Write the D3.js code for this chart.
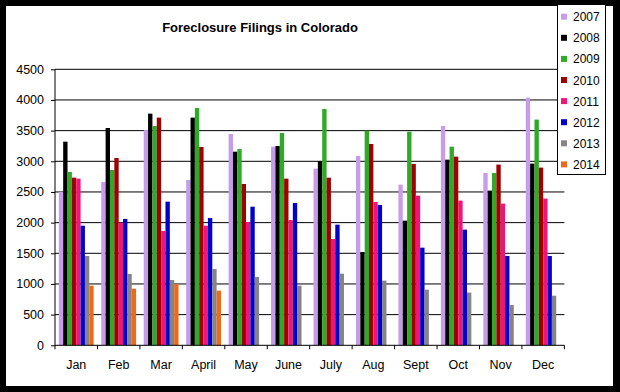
<!DOCTYPE html>
<html>
<head>
<meta charset="utf-8">
<script src="https://cdn.jsdelivr.net/npm/d3@7.9.0/dist/d3.min.js"></script>
<style>
  html, body { margin: 0; padding: 0; background: #000; }
  svg { display: block; font-family: Arial, "Liberation Sans", sans-serif; }
</style>
</head>
<body>
<svg id="chart" width="620" height="392"></svg>
<script>
// chart data
const months = ['Jan', 'Feb', 'Mar', 'April', 'May', 'June', 'July', 'Aug', 'Sept', 'Oct', 'Nov', 'Dec'];
const years = ['2007', '2008', '2009', '2010', '2011', '2012', '2013', '2014'];
const colors = ['#c79ceb', '#000000', '#2eaa26', '#a00000', '#f0147a', '#0000cc', '#868484', '#ee6a1a'];

const y2007 = [2500, 2663, 3510, 2695, 3445, 3239, 2880, 3087, 2619, 3576, 2810, 4038];
const y2008 = [3320, 3543, 3777, 3712, 3157, 3250, 3005, 1521, 2032, 3027, 2522, 2962];
const y2009 = [2826, 2858, 3576, 3870, 3200, 3462, 3853, 3500, 3483, 3239, 2810, 3680];
const y2010 = [2733, 3054, 3712, 3233, 2630, 2717, 2733, 3282, 2956, 3076, 2946, 2897];
const y2011 = [2717, 2000, 1863, 1950, 2010, 2043, 1733, 2337, 2440, 2359, 2310, 2392];
const y2012 = [1950, 2060, 2342, 2075, 2260, 2320, 1967, 2288, 1592, 1886, 1456, 1456];
const y2013 = [1456, 1163, 1065, 1244, 1114, 972, 1168, 1054, 907, 859, 657, 809];
const y2014 = [972, 923, 994, 891, null, null, null, null, null, null, null, null];
const series = [y2007, y2008, y2009, y2010, y2011, y2012, y2013, y2014];

const yTicks = [0, 500, 1000, 1500, 2000, 2500, 3000, 3500, 4000, 4500];

const svg = d3.select('#chart');

// black frame with white card
svg.append('rect').attr('width', 620).attr('height', 392).attr('fill', '#000');
svg.append('rect').attr('x', 6).attr('y', 6).attr('width', 607).attr('height', 380).attr('fill', '#fff');

const plot = { left: 55, right: 564.4, top: 69.3, bottom: 345.3 };

const x0 = d3.scaleBand()
  .domain(months)
  .range([plot.left, plot.right])
  .paddingInner(0.18)
  .paddingOuter(0.09);

const x1 = d3.scaleBand()
  .domain(years)
  .range([0, x0.bandwidth()]);

const y = d3.scaleLinear()
  .domain([0, 4500])
  .range([plot.bottom, plot.top]);

// gridlines
svg.append('g')
  .selectAll('line')
  .data(yTicks.filter(d => d > 0))
  .join('line')
  .attr('x1', plot.left)
  .attr('x2', plot.right)
  .attr('y1', d => y(d))
  .attr('y2', d => y(d))
  .attr('stroke', '#000')
  .attr('stroke-width', 1);

// bars
const rows = [];
months.forEach((m, i) => {
  years.forEach((yr, j) => {
    const v = series[j][i];
    if (v != null) rows.push({ month: m, year: yr, value: v, color: colors[j] });
  });
});

svg.append('g')
  .selectAll('rect')
  .data(rows)
  .join('rect')
  .attr('x', d => x0(d.month) + x1(d.year))
  .attr('width', x1.bandwidth())
  .attr('y', d => y(d.value))
  .attr('height', d => y(0) - y(d.value))
  .attr('fill', d => d.color);

// y axis
const yAxis = d3.axisLeft(y)
  .tickValues(yTicks)
  .tickSize(4)
  .tickPadding(7)
  .tickFormat(d3.format('d'));

svg.append('g')
  .attr('transform', `translate(${plot.left},0)`)
  .call(yAxis)
  .call(g => g.select('.domain').attr('d', `M0,${plot.top}V${plot.bottom}`))
  .call(g => g.selectAll('text').attr('font-size', 12.5).attr('fill', '#000').attr('font-family', 'Arial, "Liberation Sans", sans-serif'))
  .call(g => g.selectAll('line').attr('stroke', '#000'));

// x axis: line, ticks between categories, labels centered
const step = x0.step();
const bounds = months.map(m => x0(m) - step * x0.paddingInner() / 2);
bounds.push(plot.right);
bounds[0] = plot.left;

const xg = svg.append('g');
xg.append('line')
  .attr('x1', plot.left).attr('x2', plot.right)
  .attr('y1', plot.bottom).attr('y2', plot.bottom)
  .attr('stroke', '#000');
xg.selectAll('line.tick')
  .data(bounds)
  .join('line')
  .attr('class', 'tick')
  .attr('x1', d => d).attr('x2', d => d)
  .attr('y1', plot.bottom).attr('y2', plot.bottom + 4)
  .attr('stroke', '#000');
xg.selectAll('text')
  .data(months)
  .join('text')
  .attr('x', d => x0(d) + x0.bandwidth() / 2)
  .attr('y', 369)
  .attr('text-anchor', 'middle')
  .attr('font-size', 12.5)
  .text(d => d);

// title
svg.append('text')
  .attr('x', 260)
  .attr('y', 32)
  .attr('text-anchor', 'middle')
  .attr('font-size', 13)
  .attr('font-weight', 'bold')
  .text('Foreclosure Filings in Colorado');

// legend
const legend = svg.append('g');
legend.append('rect')
  .attr('x', 557.5).attr('y', 4.5)
  .attr('width', 48).attr('height', 170)
  .attr('fill', '#fff')
  .attr('stroke', '#000');

const item = legend.selectAll('g.item')
  .data(years)
  .join('g')
  .attr('class', 'item')
  .attr('transform', (d, i) => `translate(0,${16.7 + i * 21.1})`);

item.append('rect')
  .attr('x', 561).attr('y', -3)
  .attr('width', 6).attr('height', 6)
  .attr('fill', (d, i) => colors[i]);

item.append('text')
  .attr('x', 573)
  .attr('y', 4.5)
  .attr('font-size', 12)
  .text(d => d);
</script>
</body>
</html>
